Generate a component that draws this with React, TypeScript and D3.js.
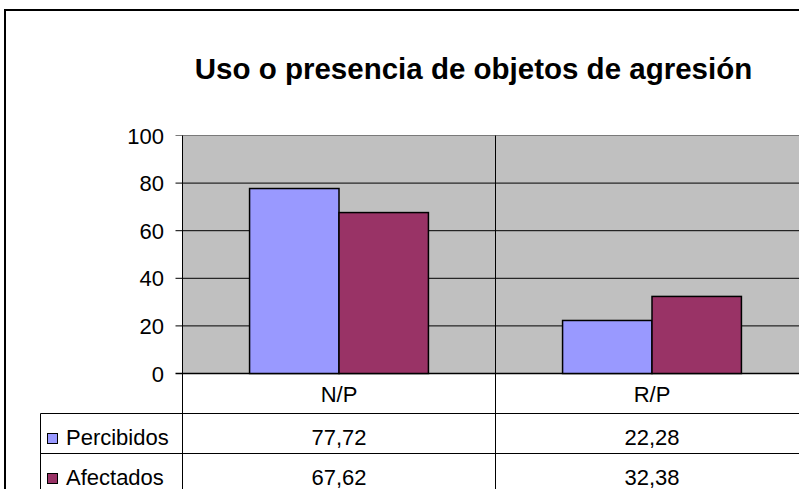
import React from "react";
import { scaleBand, scaleLinear } from "d3";

const categories = ["N/P", "R/P"];
const seriesNames = ["Percibidos", "Afectados"];
const percibidos = [77.72, 22.28];
const afectados = [67.62, 32.38];
const yTicks = [0, 20, 40, 60, 80, 100];
const colors = ["#9999FF", "#993366"];

const fmt = (v: number) => v.toFixed(2).replace(".", ",");

export default function App() {
  const W = 799;
  const H = 489;
  const plot = { left: 182.5, right: 808.5, top: 135.5, bottom: 373.5 };
  const font = "Liberation Sans, Arial, sans-serif";

  const x0 = scaleBand().domain(categories).range([plot.left, plot.right]).padding(0);
  const x1 = scaleBand()
    .domain(seriesNames)
    .range([0, x0.bandwidth()])
    .paddingInner(0)
    .paddingOuter(0.75);
  const y = scaleLinear().domain([0, 100]).range([plot.bottom, plot.top]);

  const series = [percibidos, afectados];
  const tableLeft = 40.5;
  const rowY = [373.5, 413.5, 453.5, 493.5];

  return (
    <svg
      width={W}
      height={H}
      style={{ position: "absolute", left: 0, top: 0, background: "#fff" }}
      fontFamily={font}
    >
      {/* chart frame */}
      <rect x={5} y={10} width={W + 20} height={H + 20} fill="#fff" stroke="#000" strokeWidth={2} />

      <text x={473.5} y={79} textAnchor="middle" fontSize={29.5} fontWeight="bold">
        Uso o presencia de objetos de agresión
      </text>

      {/* plot area */}
      <rect x={plot.left} y={plot.top} width={plot.right - plot.left} height={plot.bottom - plot.top} fill="#C0C0C0" />
      {yTicks.map((t) => (
        <g key={t}>
          <line
            x1={plot.left - 7}
            x2={plot.right}
            y1={y(t)}
            y2={y(t)}
            stroke={t === 100 ? "#7a7a7a" : "#000"}
            strokeWidth={t === 0 ? 1.6 : 1}
          />
          <text x={164} y={y(t) + 8} textAnchor="end" fontSize={22}>
            {t}
          </text>
        </g>
      ))}

      {/* bars */}
      {categories.map((c, i) => (
        <g key={c} transform={`translate(${x0(c)},0)`}>
          {seriesNames.map((s, j) => (
            <rect
              key={s}
              x={x1(s)}
              y={y(series[j][i])}
              width={x1.bandwidth()}
              height={y(0) - y(series[j][i])}
              fill={colors[j]}
              stroke="#000"
              strokeWidth={1.5}
            />
          ))}
        </g>
      ))}

      {/* data table */}
      <line x1={tableLeft} x2={plot.right} y1={rowY[1]} y2={rowY[1]} stroke="#000" />
      <line x1={tableLeft} x2={plot.right} y1={rowY[2]} y2={rowY[2]} stroke="#000" />
      <line x1={tableLeft} x2={tableLeft} y1={rowY[1]} y2={H} stroke="#000" />
      <line x1={plot.left} x2={plot.left} y1={plot.top} y2={H} stroke="#000" />
      {categories.map((c, i) =>
        i > 0 ? (
          <line key={c} x1={x0(c)} x2={x0(c)} y1={plot.top} y2={H} stroke="#000" />
        ) : null
      )}
      {categories.map((c) => (
        <text key={c} x={(x0(c) as number) + x0.bandwidth() / 2} y={402} textAnchor="middle" fontSize={22}>
          {c}
        </text>
      ))}
      {seriesNames.map((s, j) => (
        <g key={s}>
          <rect x={47.5} y={rowY[j + 1] + 20} width={10} height={10} fill={colors[j]} stroke="#000" strokeWidth={1} />
          <text x={66} y={rowY[j + 1] + 31} fontSize={22}>
            {s}
          </text>
          {categories.map((c, i) => (
            <text
              key={c}
              x={(x0(c) as number) + x0.bandwidth() / 2}
              y={rowY[j + 1] + 31}
              textAnchor="middle"
              fontSize={22}
            >
              {fmt(series[j][i])}
            </text>
          ))}
        </g>
      ))}
    </svg>
  );
}
